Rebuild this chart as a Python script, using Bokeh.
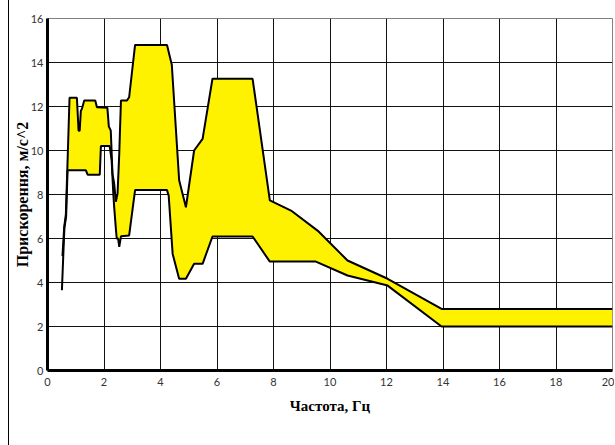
from bokeh.plotting import figure
from bokeh.models import FixedTicker
from bokeh.embed import file_html
from bokeh.resources import INLINE

# Upper boundary of the acceleration band (frequency, Hz / acceleration, m/s^2)
upper_x = [0.53, 0.59, 0.65, 0.72, 0.78, 1.04, 1.10, 1.14, 1.18, 1.22, 1.30, 1.69, 1.75,
           2.12, 2.17, 2.24, 2.30, 2.36, 2.42, 2.48, 2.54, 2.60, 2.81, 2.89, 3.10, 4.23,
           4.40, 4.66, 4.90, 5.19, 5.49, 5.84, 7.26, 7.87, 8.62, 9.56, 10.62, 12.04,
           13.95, 20.0]
upper_y = [5.2, 6.5, 7.1, 9.9, 12.4, 12.4, 10.9, 10.9, 11.8, 11.9, 12.27, 12.27, 11.97,
           11.94, 11.1, 10.9, 8.94, 8.5, 7.67, 8.05, 9.85, 12.27, 12.27, 12.42, 14.8, 14.8,
           13.9, 8.65, 7.42, 10.0, 10.53, 13.26, 13.26, 7.73, 7.27, 6.36, 5.0, 4.17,
           2.8, 2.8]

# Lower boundary of the band
lower_x = [0.51, 0.57, 0.60, 0.66, 0.71, 1.36, 1.42, 1.85, 1.89, 2.20, 2.27, 2.33, 2.36,
           2.42, 2.45, 2.50, 2.54, 2.60, 2.89, 3.10, 4.23, 4.29, 4.43, 4.66, 4.90, 5.19,
           5.49, 5.84, 7.26, 7.87, 9.50, 10.62, 12.04, 13.95, 20.0]
lower_y = [3.65, 5.6, 6.5, 7.0, 9.1, 9.1, 8.9, 8.9, 10.2, 10.2, 9.56, 8.03, 7.44,
           6.45, 6.0, 6.0, 5.62, 6.1, 6.14, 8.2, 8.2, 7.95, 5.3, 4.17, 4.17, 4.85,
           4.85, 6.09, 6.09, 4.95, 4.95, 4.32, 3.86, 2.0, 2.0]

x_ticks = [0, 2, 4, 6, 8, 10, 12, 14, 16, 18, 20]
y_ticks = [0, 2, 4, 6, 8, 10, 12, 14, 16]

p = figure(width=606, height=445, output_backend="svg", toolbar_location=None,
           x_range=(0, 20), y_range=(0, 16),
           min_border_left=38, min_border_right=3, min_border_top=18, min_border_bottom=75)
p.margin = (0, 0, 0, 8)
p.styles = {"border-left": "1px solid #000000"}

# Filled band between the two boundaries
band_x = upper_x + lower_x[::-1]
band_y = upper_y + lower_y[::-1]
p.patch(band_x, band_y, fill_color="#FFF200", line_color=None)
p.line(upper_x, upper_y, line_color="#000000", line_width=2)
p.line(lower_x, lower_y, line_color="#000000", line_width=2)

p.xaxis.ticker = FixedTicker(ticks=x_ticks)
p.yaxis.ticker = FixedTicker(ticks=y_ticks)

for ax in (p.xaxis[0], p.yaxis[0]):
    ax.axis_line_color = "#000000"
    ax.axis_line_width = 3
    ax.major_tick_line_color = None
    ax.minor_tick_line_color = None
    ax.major_tick_out = 0
    ax.major_tick_in = 0
    ax.minor_tick_out = 0
    ax.minor_tick_in = 0
    ax.major_label_text_font = "Lato"
    ax.major_label_text_font_size = "11px"
    ax.major_label_text_color = "#333333"
    ax.axis_label_text_font = "Liberation Serif"
    ax.axis_label_text_font_style = "bold"
    ax.axis_label_text_color = "#000000"

p.xaxis.axis_label = "Частота, Гц"
p.yaxis.axis_label = "Прискорення, м/с^2"
p.xaxis.axis_label_text_font_size = "15px"
p.yaxis.axis_label_text_font_size = "16px"
p.xaxis.major_label_standoff = 7
p.yaxis.major_label_standoff = 4
p.xaxis.axis_label_standoff = 9
p.yaxis.axis_label_standoff = -3

p.grid.grid_line_color = "#111111"
p.grid.grid_line_width = 1
p.outline_line_color = "#808080"
p.outline_line_width = 1
p.background_fill_color = "#FFFFFF"
p.border_fill_color = "#FFFFFF"

open("out.html", "w").write(file_html(p, INLINE))
